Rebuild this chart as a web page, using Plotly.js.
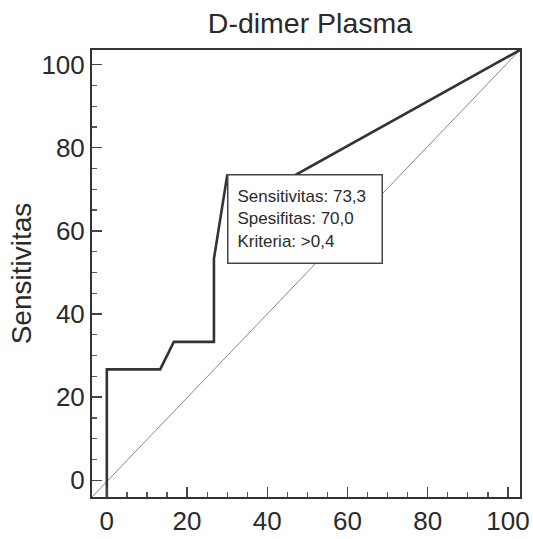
<!DOCTYPE html>
<html>
<head>
<meta charset="utf-8">
<script src="https://cdn.plot.ly/plotly-3.0.1.min.js"></script>
<style>html,body{margin:0;padding:0;background:#fff;}#chart{width:533px;height:539px;}</style>
</head>
<body>
<div id="chart"></div>
<script>
// ROC curve points (100 - Spesifitas, Sensitivitas)
const rocX = [0, 0, 13.3, 16.7, 26.7, 26.7, 30, 46.7, 103];
const rocY = [-4, 26.7, 26.7, 33.3, 33.3, 53.3, 73.3, 73.3, 103.5];
// reference (chance) diagonal
const diagX = [-3.7, 103];
const diagY = [-4, 103.5];
// operating point index and its text
const critIndex = 6;
const critLines = ["Sensitivitas: 73,3", "Spesifitas: 70,0", "Kriteria: >0,4"];
const tickVals = [0, 20, 40, 60, 80, 100];
const tickText = ["0", "20", "40", "60", "80", "100"];

const font = "Liberation Sans, Arial, sans-serif";
const ink = "#2a2a2a";

const traces = [
  {x: diagX, y: diagY, mode: "lines", line: {color: "#888", width: 1}, hoverinfo: "skip"},
  {x: rocX, y: rocY, mode: "lines", line: {color: "#333", width: 2.6}, hoverinfo: "skip"}
];

const axisCommon = {
  showgrid: false, zeroline: false, showline: true, mirror: true,
  linecolor: "#333", linewidth: 2,
  ticks: "inside", ticklen: 10, tickwidth: 1.5, tickcolor: "#444",
  tickvals: tickVals, ticktext: tickText,
  tickfont: {family: font, size: 26, color: ink},
  minor: {dtick: 5, ticks: "inside", ticklen: 5, tickwidth: 1.2, tickcolor: "#555"},
  fixedrange: true
};

const layout = {
  width: 533, height: 539,
  margin: {l: 92, r: 13, t: 50, b: 42},
  paper_bgcolor: "#fff", plot_bgcolor: "#fff",
  showlegend: false,
  title: {text: "D-dimer Plasma", font: {family: font, size: 28.5, color: ink},
          x: 310/533, xanchor: "center", y: 1 - 23/539, yanchor: "middle"},
  xaxis: Object.assign({}, axisCommon, {range: [-3.7, 103]}),
  yaxis: Object.assign({}, axisCommon, {range: [-4, 103.5],
    title: {text: "Sensitivitas", font: {family: font, size: 28, color: ink}, standoff: 2}}),
  annotations: [{
    x: rocX[critIndex], y: rocY[critIndex], xref: "x", yref: "y",
    xanchor: "left", yanchor: "top", showarrow: false, yshift: 2,
    text: critLines.join("<br>"), align: "left",
    font: {family: font, size: 17, color: ink},
    bgcolor: "#fff", bordercolor: "#444", borderwidth: 1.5, borderpad: 9,
    width: 135, height: 69, valign: "middle"
  }]
};

Plotly.newPlot("chart", traces, layout, {displayModeBar: false, staticPlot: true});
</script>
</body>
</html>
